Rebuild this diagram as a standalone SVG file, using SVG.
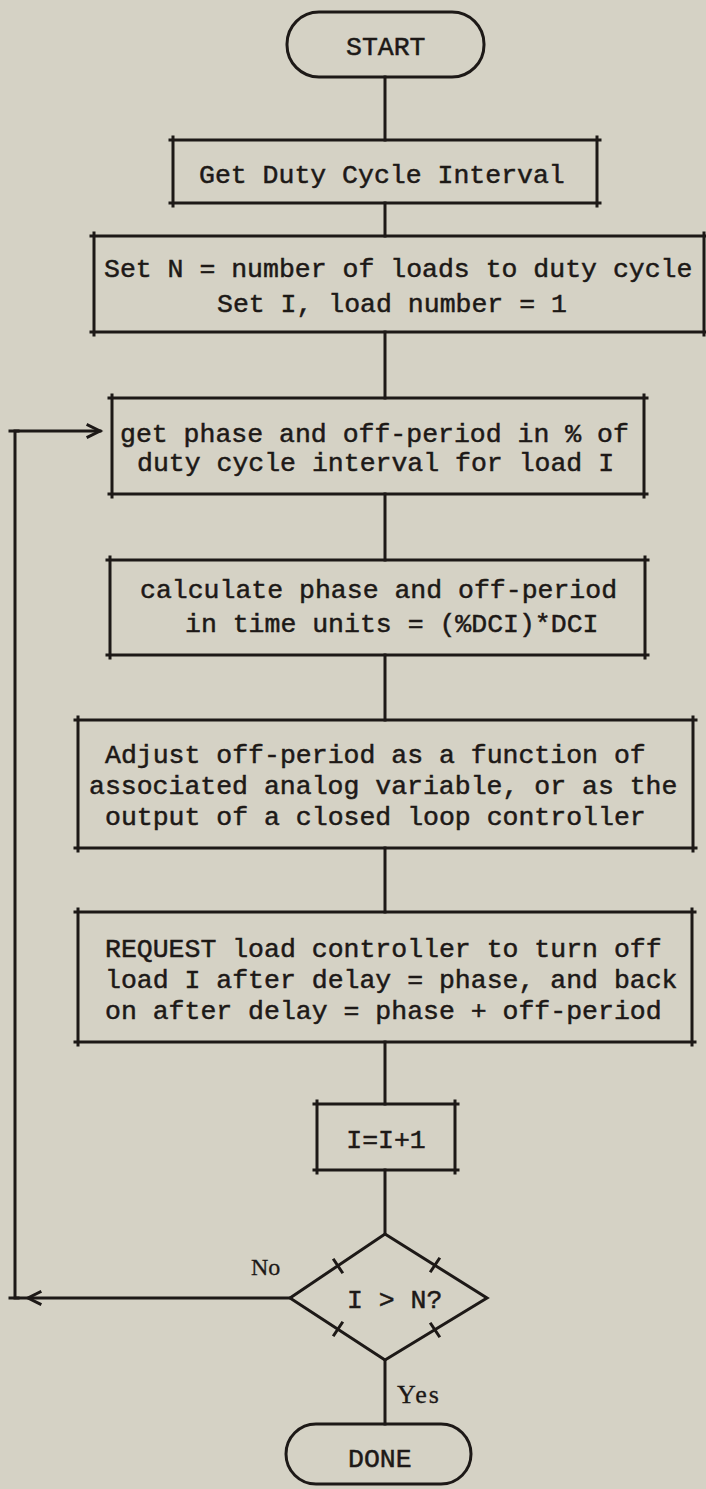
<svg xmlns="http://www.w3.org/2000/svg" width="706" height="1489" viewBox="0 0 706 1489">
<style>
.ln{fill:none;stroke:#1d1917;stroke-width:3;stroke-linecap:square}
.t{font-family:"Liberation Mono","DejaVu Sans Mono",monospace;font-size:26.5px;fill:#1d1917;stroke:#1d1917;stroke-width:0.5}
.s{font-family:"Liberation Serif","DejaVu Serif",serif;fill:#1d1917;stroke:#1d1917;stroke-width:0.3}
</style>
<rect width="706" height="1489" fill="#d5d2c5"/>
<g id="connectors" class="ln">
<path d="M385,77 V140"/>
<path d="M385,203 V236"/>
<path d="M385,332 V398"/>
<path d="M385,494 V560"/>
<path d="M385,655 V720"/>
<path d="M385,848 V912"/>
<path d="M385,1042 V1104"/>
<path d="M385,1170 V1234"/>
<path d="M385,1360 V1424"/>
<path d="M290,1298 H15 V431 H100"/>
<path d="M40,1292 L28,1298 L40,1304"/>
<path d="M88,425 L100,431 L88,437"/>
<path d="M10,1298 H18 M10,431 H18"/>
</g>
<g id="start">
<rect class="ln" x="287" y="12" width="197" height="65" rx="32" ry="32"/>
<text class="t" x="346" y="55">START</text>
</g>
<g id="box1">
<path class="ln" d="M170,140 H600 M170,203 H600 M173,137 V206 M597,137 V206"/>
<text class="t" x="199" y="183">Get Duty Cycle Interval</text>
</g>
<g id="box2">
<path class="ln" d="M91,236 H707 M91,332 H707 M94,233 V335 M704,233 V335"/>
<text class="t" x="104" y="277">Set N = number of loads to duty cycle</text>
<text class="t" x="217" y="312">Set I, load number = 1</text>
</g>
<g id="box3">
<path class="ln" d="M109,398 H647 M109,494 H647 M112,395 V497 M644,395 V497"/>
<text class="t" x="120" y="442">get phase and off-period in % of</text>
<text class="t" x="137" y="471">duty cycle interval for load I</text>
</g>
<g id="box4">
<path class="ln" d="M107,560 H648 M107,655 H648 M110,557 V658 M645,557 V658"/>
<text class="t" x="140" y="598">calculate phase and off-period</text>
<text class="t" x="185" y="632">in time units = (%DCI)*DCI</text>
</g>
<g id="box5">
<path class="ln" d="M75,720 H696 M75,848 H696 M78,717 V851 M693,717 V851"/>
<text class="t" x="105" y="763">Adjust off-period as a function of</text>
<text class="t" x="89" y="794">associated analog variable, or as the</text>
<text class="t" x="105" y="825">output of a closed loop controller</text>
</g>
<g id="box6">
<path class="ln" d="M75,912 H695 M75,1042 H695 M78,909 V1045 M692,909 V1045"/>
<text class="t" x="105" y="957">REQUEST load controller to turn off</text>
<text class="t" x="105" y="988">load I after delay = phase, and back</text>
<text class="t" x="105" y="1019">on after delay = phase + off-period</text>
</g>
<g id="box7">
<path class="ln" d="M314,1104 H458 M314,1170 H458 M317,1101 V1173 M455,1101 V1173"/>
<text class="t" x="386" y="1148" text-anchor="middle">I=I+1</text>
</g>
<g id="decision">
<path class="ln" d="M385,1234 L487,1298 L385,1360 L290,1298 Z"/>
<path class="ln" d="M334,1260 L342,1272 M439,1259 L431,1271 M342,1323 L334,1335 M431,1324 L439,1336"/>
<text class="t" x="347" y="1308">I &gt; N?</text>
</g>
<g id="labels">
<text class="s" x="251" y="1275" font-size="24">No</text>
<text class="s" x="397" y="1403" font-size="26" letter-spacing="2">Yes</text>
</g>
<g id="done">
<rect class="ln" x="286" y="1424" width="185" height="60" rx="30" ry="30"/>
<text class="t" x="348" y="1467">DONE</text>
</g>
</svg>
